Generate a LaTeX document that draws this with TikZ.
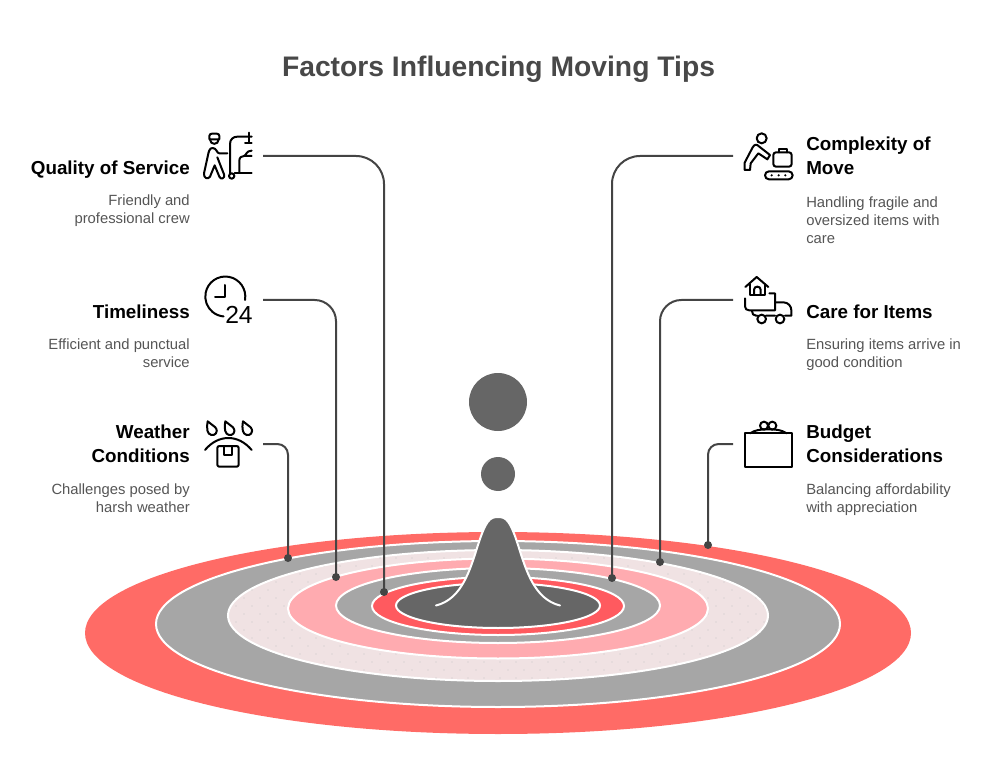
\documentclass[tikz,border=0pt]{standalone}
\usepackage{fontspec}
\setmainfont{Liberation Sans}
\definecolor{cline}{HTML}{444444}
\definecolor{coral}{HTML}{FF6B66}
\definecolor{midgray}{HTML}{A6A6A6}
\definecolor{palepink}{HTML}{F0E2E3}
\definecolor{rose}{HTML}{FFABB0}
\definecolor{redring}{HTML}{FF5A5F}
\definecolor{darkgray}{HTML}{666666}
\definecolor{textgray}{HTML}{555555}
\definecolor{titlegray}{HTML}{484848}
\tikzset{
  ring/.style={draw=white,line width=1.5pt},
  conn/.style={draw=cline,line width=1.5pt},
  enddot/.style={circle,fill=cline,inner sep=0pt,minimum size=6pt},
  blob/.style={circle,fill=darkgray,inner sep=0pt},
  headR/.style={anchor=base east,inner sep=0pt,align=right,font=\fontsize{14.1pt}{18pt}\selectfont\bfseries,text=black},
  headL/.style={anchor=base west,inner sep=0pt,align=left,font=\fontsize{14.1pt}{18pt}\selectfont\bfseries,text=black},
  descR/.style={anchor=base east,inner sep=0pt,align=right,font=\fontsize{11.1pt}{13.5pt}\selectfont,text=textgray},
  descL/.style={anchor=base west,inner sep=0pt,align=left,font=\fontsize{11.1pt}{13.5pt}\selectfont,text=textgray},
  ico/.style={draw=black,line width=1.5pt,line cap=round,line join=round},
}
\begin{document}
\begin{tikzpicture}[x=0.75pt,y=-0.75pt]
\useasboundingbox (0,0) rectangle (996,784);
% rings
\fill[coral] (498,633) ellipse [x radius=413,y radius=101];
\path[ring,fill=midgray] (498,624) ellipse [x radius=342,y radius=83];
\path[ring,fill=palepink] (498,615.5) ellipse [x radius=270,y radius=65.5];
\begin{scope}
\clip (498,615.5) ellipse [x radius=269,y radius=64.5];
\foreach \i in {0,...,34}{\foreach \j in {0,...,8}{
  \fill[black!22] ({228+\i*16},{550+\j*16}) circle (0.4pt);
  \fill[black!22] ({236+\i*16},{558+\j*16}) circle (0.4pt);
}}
\end{scope}
\path[ring,fill=rose] (498,608.5) ellipse [x radius=210,y radius=50];
\path[ring,fill=midgray] (498,605.5) ellipse [x radius=162,y radius=37.5];
\path[ring,fill=redring] (498,606) ellipse [x radius=126,y radius=29];
\path[ring,fill=darkgray] (498,605.5) ellipse [x radius=102,y radius=22.5];
% peak
\fill[darkgray] (436,605.5) .. controls (462,599) and (470,570) .. (478,545) .. controls (486,520) and (490,517) .. (498,517) .. controls (506,517) and (510,520) .. (518,545) .. controls (526,570) and (534,599) .. (560,605.5) -- cycle;
\draw[white,line width=1.5pt,line cap=round] (436,605.5) .. controls (462,599) and (470,570) .. (478,545) .. controls (486,520) and (490,517) .. (498,517) .. controls (506,517) and (510,520) .. (518,545) .. controls (526,570) and (534,599) .. (560,605.5);
% droplets
\node[blob,minimum size=43.5pt] (bigdrop) at (498,402) {};
\node[blob,minimum size=25.5pt] (smalldrop) at (498,474) {};
% title
\node[anchor=base,inner sep=0pt,font=\fontsize{21.2pt}{26pt}\selectfont\bfseries,text=titlegray] (title) at (498.5,77) {Factors Influencing Moving Tips};
% texts
\node[headR] (hq) at (190,175) {Quality of Service};
\node[descR] (dq) at (190,224) {Friendly and\\professional crew};
\node[headR] (ht) at (190,319) {Timeliness};
\node[descR] (dt) at (190,368) {Efficient and punctual\\service};
\node[headR] (hw) at (190,462) {Weather\\Conditions};
\node[descR] (dw) at (190,512) {Challenges posed by\\harsh weather};
\node[headL] (hc) at (806,175) {Complexity of\\Move};
\node[descL] (dc) at (806,244) {Handling fragile and\\oversized items with\\care};
\node[headL] (hi) at (806,319) {Care for Items};
\node[descL] (di) at (806,368) {Ensuring items arrive in\\good condition};
\node[headL] (hb) at (806,462) {Budget\\Considerations};
\node[descL] (db) at (806,512) {Balancing affordability\\with appreciation};
% connector ends
\coordinate (s1) at (263,156); \node[enddot] (e1) at (384,592) {};
\coordinate (s2) at (263,300); \node[enddot] (e2) at (336,577) {};
\coordinate (s3) at (263,444); \node[enddot] (e3) at (288,558) {};
\coordinate (s4) at (733,156); \node[enddot] (e4) at (612,578) {};
\coordinate (s5) at (733,300); \node[enddot] (e5) at (660,562) {};
\coordinate (s6) at (733,444); \node[enddot] (e6) at (708,545) {};
\draw[conn,rounded corners=21pt] (s1) -| (e1.center);
\draw[conn,rounded corners=16pt] (s2) -| (e2.center);
\draw[conn,rounded corners=8pt] (s3) -| (e3.center);
\draw[conn,rounded corners=21pt] (s4) -| (e4.center);
\draw[conn,rounded corners=16pt] (s5) -| (e5.center);
\draw[conn,rounded corners=8pt] (s6) -| (e6.center);
% icon 1: service
\begin{scope}[shift={(190,120)},x=0.25pt,y=-0.25pt]
\draw[ico] (58,58) -- (58,48) .. controls (58,43) and (62,41) .. (66,41) -- (80,41) .. controls (85,41) and (88,44) .. (88,48) -- (88,58) -- cycle;
\draw[ico] (60,58) .. controls (60,76) and (86,76) .. (86,58);
\draw[ico] (112,100) -- (88,100) .. controls (80,100) and (80,84) .. (68,84) .. controls (58,84) and (56,95) .. (53,110) -- (42,160) .. controls (40,174) and (54,180) .. (60,170) -- (74,136) -- (88,170) .. controls (92,180) and (106,176) .. (102,163) -- (82,112);
\draw[ico] (120,160) -- (120,72) .. controls (120,58) and (130,50) .. (142,50) -- (185,50);
\draw[ico] (178,38) -- (178,68) (165,68) -- (185,68);
\draw[ico] (148,156) -- (148,122) .. controls (148,112) and (155,108) .. (162,108) -- (185,108);
\draw[ico] (162,108) .. controls (170,106) and (168,92) .. (185,92);
\draw[ico] (134,158) -- (185,158);
\draw[ico] (125,168) circle (8);
\end{scope}
% icon 2: clock
\begin{scope}[shift={(190,265)},x=0.25pt,y=-0.25pt]
\draw[ico] (165,105) arc [start angle=10,end angle=-265,x radius=60,y radius=60];
\draw[ico] (105,60) -- (105,97) -- (75,97);
\node[anchor=base west,inner sep=0pt,font=\fontsize{18.5pt}{20pt}\selectfont,text=black] (num24) at (105,175) {24};
\end{scope}
% icon 3: weather
\begin{scope}[shift={(190,410)},x=0.25pt,y=-0.25pt]
\foreach \dx in {0,53,106}{
\draw[ico,xshift=\dx*0.25pt] (53,34) -- (76,52) .. controls (88,68) and (72,78) .. (64,75) .. controls (52,72) and (49,58) .. (53,34) -- cycle;
}
\draw[ico] (45,120) .. controls (85,72) and (145,72) .. (185,120);
\draw[ico,rounded corners=1.5pt] (82,108) rectangle (146,170);
\draw[ico] (103,108) -- (103,135) -- (125,135) -- (125,108);
\end{scope}
% icon 4: baggage
\begin{scope}[shift={(730,120)},x=0.25pt,y=-0.25pt]
\draw[ico] (95,55) circle (15);
\draw[ico] (60,150) -- (44,150) -- (44,128) -- (68,82) .. controls (74,72) and (80,72) .. (88,80) -- (120,105) -- (112,118) -- (85,100) -- (62,130) -- cycle;
\draw[ico,rounded corners=2pt] (130,97) rectangle (185,140);
\draw[ico] (146,97) -- (146,87) -- (170,87) -- (170,97);
\draw[ico,rounded corners=3pt] (105,154) rectangle (188,178);
\foreach \cx in {125,146,166}{\fill (\cx,166) circle (0.9pt);}
\end{scope}
% icon 5: truck
\begin{scope}[shift={(730,265)},x=0.25pt,y=-0.25pt]
\draw[ico] (46,66) -- (80,36) -- (115,66);
\draw[ico] (60,58) -- (60,90) -- (104,90) -- (104,58);
\draw[ico] (72,90) -- (72,74) .. controls (72,62) and (92,62) .. (92,74) -- (92,90);
\draw[ico] (45,100) -- (45,124) .. controls (45,132) and (50,136) .. (58,136) -- (135,136) -- (135,85) -- (118,85);
\draw[ico] (135,112) -- (160,112) .. controls (175,112) and (184,124) .. (184,136) -- (184,152) -- (165,152);
\draw[ico] (135,152) -- (108,152) (82,152) -- (78,152) .. controls (70,152) and (66,146) .. (66,138);
\draw[ico] (95,162) circle (13);
\draw[ico] (150,162) circle (13);
\end{scope}
% icon 6: budget
\begin{scope}[shift={(730,410)},x=0.25pt,y=-0.25pt]
\draw[ico] (45,70) rectangle (185,170);
\draw[ico] (60,70) .. controls (75,60) and (90,58) .. (115,58) .. controls (140,58) and (155,60) .. (170,70);
\draw[ico] (102,47) circle (12);
\draw[ico] (127,47) circle (12);
\end{scope}
\end{tikzpicture}
\end{document}
